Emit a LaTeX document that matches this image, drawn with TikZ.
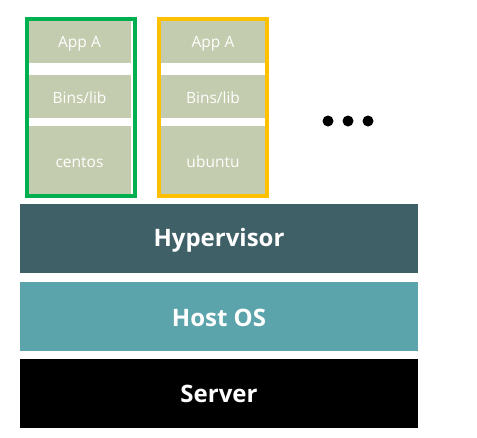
\documentclass[tikz,border=0pt]{standalone}
\usepackage{fontspec}
\setmainfont{Open Sans}
\definecolor{layerbox}{HTML}{C3CCAE}
\definecolor{hypcol}{HTML}{3E6066}
\definecolor{hostcol}{HTML}{5BA4AB}
\definecolor{vmgreen}{HTML}{00B050}
\definecolor{vmyellow}{HTML}{FFC000}
\begin{document}
\begin{tikzpicture}[x=1pt,y=-1pt,
  layer/.style={text=white,font=\fontsize{15.5}{17}\selectfont,inner sep=0pt},
  base/.style={text=white,font=\fontsize{24}{28}\selectfont\bfseries,inner sep=0pt},
  frame/.style={line width=3.6pt}]
\useasboundingbox (0,0) rectangle (477,437);
\fill[white] (0,0) rectangle (477,437);

% first guest: centos
\draw[frame,draw=vmgreen] (26.8,18.8) rectangle (135.2,196.2);
\fill[layerbox] (28.6,20.6) rectangle (131,63);
\fill[layerbox] (28.6,75) rectangle (131,118);
\fill[layerbox] (28.6,126) rectangle (131,194.4);
\node[layer] (appa1) at (79.5,43.5) {App A};
\node[layer] (bins1) at (79.5,98) {Bins/lib};
\node[layer] (os1) at (79.5,162) {centos};

% second guest: ubuntu
\draw[frame,draw=vmyellow] (158.8,18.8) rectangle (267.2,196.2);
\fill[layerbox] (160.6,20.6) rectangle (265.4,63);
\fill[layerbox] (160.6,75) rectangle (265.4,118);
\fill[layerbox] (160.6,126) rectangle (265.4,194.4);
\node[layer] (appa2) at (213,43.5) {App A};
\node[layer] (bins2) at (213,98) {Bins/lib};
\node[layer] (os2) at (213,162) {ubuntu};

% more guests
\fill[black] (328,121) circle (5.5) (348,121) circle (5.5) (368,121) circle (5.5);

% shared layers
\fill[hypcol] (20,204) rectangle (418,273);
\node[base] (hyp) at (219,240) {Hypervisor};
\fill[hostcol] (20,282) rectangle (418,351);
\node[base] (host) at (219,318) {Host OS};
\fill[black] (20,359) rectangle (418,428);
\node[base] (server) at (219,394) {Server};
\end{tikzpicture}
\end{document}
